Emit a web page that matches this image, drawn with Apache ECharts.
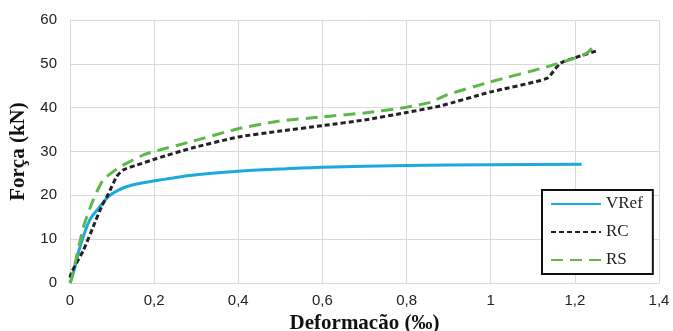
<!DOCTYPE html>
<html><head><meta charset="utf-8">
<script src="https://cdn.jsdelivr.net/npm/echarts@6/dist/echarts.min.js"></script>
<style>html,body{margin:0;padding:0;background:#fff}#c{width:673px;height:331px}</style>
</head><body><div id="c"></div>
<script>
var xTicks = [0, 0.2, 0.4, 0.6, 0.8, 1, 1.2, 1.4];
var yTicks = [0, 10, 20, 30, 40, 50, 60];
var seriesNames = ['VRef', 'RC', 'RS'];
var vref = [[0,0],[0.01,3],[0.024,8.3],[0.047,14.4],[0.071,17.4],[0.091,19.7],[0.115,21.2],[0.15,22.4],[0.214,23.5],[0.29,24.6],[0.4,25.5],[0.5,26.0],[0.6,26.4],[0.8,26.8],[1.0,27.0],[1.216,27.1]];
var rc = [[0,1.2],[0.004,2.5],[0.032,7.5],[0.055,12.8],[0.075,17.4],[0.091,20.3],[0.111,24.3],[0.127,25.8],[0.159,26.9],[0.206,28.4],[0.29,30.8],[0.4,33.3],[0.495,34.6],[0.6,35.9],[0.7,37.2],[0.8,38.9],[0.88,40.4],[1.0,43.6],[1.133,46.7],[1.165,50.1],[1.2,51.4],[1.25,52.9]];
var rs = [[0,0],[0.004,1],[0.032,12.8],[0.055,18.9],[0.079,23.5],[0.119,26.5],[0.174,29.2],[0.2,30.0],[0.29,32.3],[0.4,35.2],[0.495,36.9],[0.6,37.9],[0.7,38.8],[0.8,40.1],[0.856,41.2],[0.895,42.9],[1.0,45.9],[1.133,49.3],[1.2,51.3],[1.228,52.4],[1.245,54.0]];

var chart = echarts.init(document.getElementById('c'));
var grid = '#d9d9d9';
var tickFont = {fontFamily: 'Liberation Sans', fontSize: 15, color: '#222'};
chart.setOption({
  animation: false,
  grid: {left: 70, right: 14, top: 20, bottom: 48, outerBoundsMode: 'none', containLabel: false},
  xAxis: {
    type: 'value', min: xTicks[0], max: xTicks[xTicks.length-1], interval: 0.2,
    axisLine: {show: true, lineStyle: {color: grid, width: 1}},
    axisTick: {show: false},
    splitLine: {show: true, lineStyle: {color: grid, width: 1}},
    axisLabel: Object.assign({margin: 10, formatter: function(v){ return String(Math.round(v*10)/10).replace('.', ','); }}, tickFont),
    name: 'Deformacão (‰)', nameLocation: 'middle', nameGap: 30,
    nameTextStyle: {fontFamily: 'Liberation Serif', fontWeight: 'bold', fontSize: 21, color: '#111'}
  },
  yAxis: {
    type: 'value', min: yTicks[0], max: yTicks[yTicks.length-1], interval: 10,
    axisLine: {show: true, lineStyle: {color: grid, width: 1}},
    axisTick: {show: false},
    splitLine: {show: true, lineStyle: {color: grid, width: 1}},
    axisLabel: Object.assign({margin: 13}, tickFont),
    name: 'Força (kN)', nameLocation: 'middle', nameGap: 40,
    nameTextStyle: {fontFamily: 'Liberation Serif', fontWeight: 'bold', fontSize: 21, color: '#111'}
  },
  legend: {
    orient: 'vertical', left: 542, top: 190,
    data: seriesNames,
    itemWidth: 50, itemHeight: 20, itemGap: 8,
    padding: [4, 10, 4, 8],
    itemStyle: {opacity: 0},
    borderColor: '#111', borderWidth: 2, backgroundColor: '#fff',
    textStyle: {fontFamily: 'Liberation Serif', fontSize: 17, color: '#222', lineHeight: 20}
  },
  series: [
    {name: seriesNames[0], type: 'line', data: vref, symbol: 'none', smooth: 0.3,
     lineStyle: {color: '#1ea8e0', width: 3}, itemStyle: {color: '#1ea8e0'}},
    {name: seriesNames[1], type: 'line', data: rc, symbol: 'none', smooth: 0.2,
     lineStyle: {color: '#222', width: 3, type: [5, 3]}, itemStyle: {color: '#222'}},
    {name: seriesNames[2], type: 'line', data: rs, symbol: 'none', smooth: 0.2,
     lineStyle: {color: '#5cb848', width: 3, type: [12, 7]}, itemStyle: {color: '#5cb848'}}
  ]
});
</script></body></html>
